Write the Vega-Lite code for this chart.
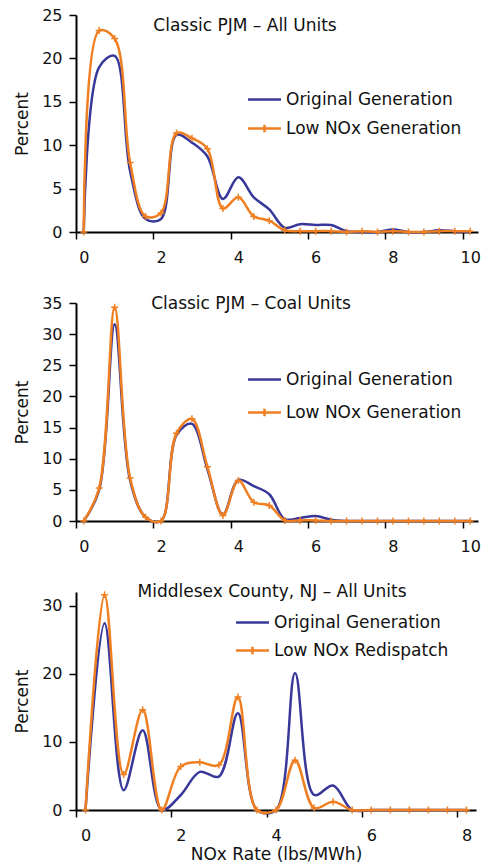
{
  "$schema": "https://vega.github.io/schema/vega-lite/v6.json",
  "background": "white",
  "padding": {"left": 13, "top": 7, "right": 5, "bottom": 5},
  "config": {
    "font": "DejaVu Sans",
    "view": {"stroke": null},
    "axis": {"labelFont": "DejaVu Sans", "labelFontSize": 16, "labelColor": "#111", "titleFont": "DejaVu Sans", "titleFontSize": 17, "titleFontWeight": "normal", "titleColor": "#111", "domainColor": "#000", "domainWidth": 2, "tickColor": "#000", "tickWidth": 1.5, "tickSize": 7, "grid": false},
    "legend": {"labelFont": "DejaVu Sans", "labelFontSize": 17, "labelColor": "#111", "labelLimit": 0, "symbolType": "M-2,0H2", "symbolSize": 272, "symbolStrokeWidth": 2.5, "labelOffset": 12, "padding": 0},
    "title": {"font": "DejaVu Sans", "fontSize": 17, "fontWeight": "normal", "color": "#111", "anchor": "middle", "frame": "group", "offset": 0, "baseline": "middle"}
  },
  "datasets": {
    "p1": [
      {"x": 0, "s": "Original Generation", "v": 0}, {"x": 0, "s": "Low NOx Generation", "v": 0},
      {"x": 0.4, "s": "Original Generation", "v": 19.0}, {"x": 0.4, "s": "Low NOx Generation", "v": 23.2},
      {"x": 0.8, "s": "Original Generation", "v": 20.3}, {"x": 0.8, "s": "Low NOx Generation", "v": 22.3},
      {"x": 1.2, "s": "Original Generation", "v": 7.0}, {"x": 1.2, "s": "Low NOx Generation", "v": 8.0},
      {"x": 1.6, "s": "Original Generation", "v": 1.5}, {"x": 1.6, "s": "Low NOx Generation", "v": 1.8},
      {"x": 2.0, "s": "Original Generation", "v": 1.5}, {"x": 2.0, "s": "Low NOx Generation", "v": 2.2},
      {"x": 2.4, "s": "Original Generation", "v": 11.2}, {"x": 2.4, "s": "Low NOx Generation", "v": 11.4},
      {"x": 2.8, "s": "Original Generation", "v": 10.3}, {"x": 2.8, "s": "Low NOx Generation", "v": 10.8},
      {"x": 3.2, "s": "Original Generation", "v": 8.7}, {"x": 3.2, "s": "Low NOx Generation", "v": 9.6},
      {"x": 3.6, "s": "Original Generation", "v": 3.8}, {"x": 3.6, "s": "Low NOx Generation", "v": 2.7},
      {"x": 4.0, "s": "Original Generation", "v": 6.3}, {"x": 4.0, "s": "Low NOx Generation", "v": 4.0},
      {"x": 4.4, "s": "Original Generation", "v": 4.0}, {"x": 4.4, "s": "Low NOx Generation", "v": 1.8},
      {"x": 4.8, "s": "Original Generation", "v": 2.6}, {"x": 4.8, "s": "Low NOx Generation", "v": 1.3},
      {"x": 5.2, "s": "Original Generation", "v": 0.5}, {"x": 5.2, "s": "Low NOx Generation", "v": 0.2},
      {"x": 5.6, "s": "Original Generation", "v": 0.9}, {"x": 5.6, "s": "Low NOx Generation", "v": 0.1},
      {"x": 6.0, "s": "Original Generation", "v": 0.8}, {"x": 6.0, "s": "Low NOx Generation", "v": 0.1},
      {"x": 6.4, "s": "Original Generation", "v": 0.8}, {"x": 6.4, "s": "Low NOx Generation", "v": 0.1},
      {"x": 6.8, "s": "Original Generation", "v": 0.1}, {"x": 6.8, "s": "Low NOx Generation", "v": 0.0},
      {"x": 7.2, "s": "Original Generation", "v": 0.0}, {"x": 7.2, "s": "Low NOx Generation", "v": 0.1},
      {"x": 7.6, "s": "Original Generation", "v": 0.0}, {"x": 7.6, "s": "Low NOx Generation", "v": 0.0},
      {"x": 8.0, "s": "Original Generation", "v": 0.3}, {"x": 8.0, "s": "Low NOx Generation", "v": 0.1},
      {"x": 8.4, "s": "Original Generation", "v": 0.0}, {"x": 8.4, "s": "Low NOx Generation", "v": 0.0},
      {"x": 8.8, "s": "Original Generation", "v": 0.0}, {"x": 8.8, "s": "Low NOx Generation", "v": 0.0},
      {"x": 9.2, "s": "Original Generation", "v": 0.2}, {"x": 9.2, "s": "Low NOx Generation", "v": 0.1},
      {"x": 9.6, "s": "Original Generation", "v": 0.1}, {"x": 9.6, "s": "Low NOx Generation", "v": 0.1},
      {"x": 10.0, "s": "Original Generation", "v": 0.0}, {"x": 10.0, "s": "Low NOx Generation", "v": 0.1}
    ],
    "p2": [
      {"x": 0, "s": "Original Generation", "v": 0}, {"x": 0, "s": "Low NOx Generation", "v": 0},
      {"x": 0.4, "s": "Original Generation", "v": 5.0}, {"x": 0.4, "s": "Low NOx Generation", "v": 5.3},
      {"x": 0.8, "s": "Original Generation", "v": 31.6}, {"x": 0.8, "s": "Low NOx Generation", "v": 34.3},
      {"x": 1.2, "s": "Original Generation", "v": 6.5}, {"x": 1.2, "s": "Low NOx Generation", "v": 6.9},
      {"x": 1.6, "s": "Original Generation", "v": 0.6}, {"x": 1.6, "s": "Low NOx Generation", "v": 0.6},
      {"x": 2.0, "s": "Original Generation", "v": 0.0}, {"x": 2.0, "s": "Low NOx Generation", "v": 0.0},
      {"x": 2.4, "s": "Original Generation", "v": 13.8}, {"x": 2.4, "s": "Low NOx Generation", "v": 14.1},
      {"x": 2.8, "s": "Original Generation", "v": 15.6}, {"x": 2.8, "s": "Low NOx Generation", "v": 16.4},
      {"x": 3.2, "s": "Original Generation", "v": 8.3}, {"x": 3.2, "s": "Low NOx Generation", "v": 8.7},
      {"x": 3.6, "s": "Original Generation", "v": 1.0}, {"x": 3.6, "s": "Low NOx Generation", "v": 0.9},
      {"x": 4.0, "s": "Original Generation", "v": 6.6}, {"x": 4.0, "s": "Low NOx Generation", "v": 6.5},
      {"x": 4.4, "s": "Original Generation", "v": 5.6}, {"x": 4.4, "s": "Low NOx Generation", "v": 3.0},
      {"x": 4.8, "s": "Original Generation", "v": 4.3}, {"x": 4.8, "s": "Low NOx Generation", "v": 2.5},
      {"x": 5.2, "s": "Original Generation", "v": 0.3}, {"x": 5.2, "s": "Low NOx Generation", "v": 0.1},
      {"x": 5.6, "s": "Original Generation", "v": 0.5}, {"x": 5.6, "s": "Low NOx Generation", "v": 0.1},
      {"x": 6.0, "s": "Original Generation", "v": 0.8}, {"x": 6.0, "s": "Low NOx Generation", "v": 0.1},
      {"x": 6.4, "s": "Original Generation", "v": 0.2}, {"x": 6.4, "s": "Low NOx Generation", "v": 0.0},
      {"x": 6.8, "s": "Original Generation", "v": 0.0}, {"x": 6.8, "s": "Low NOx Generation", "v": 0.0},
      {"x": 7.2, "s": "Original Generation", "v": 0.0}, {"x": 7.2, "s": "Low NOx Generation", "v": 0.0},
      {"x": 7.6, "s": "Original Generation", "v": 0.0}, {"x": 7.6, "s": "Low NOx Generation", "v": 0.0},
      {"x": 8.0, "s": "Original Generation", "v": 0.0}, {"x": 8.0, "s": "Low NOx Generation", "v": 0.0},
      {"x": 8.4, "s": "Original Generation", "v": 0.0}, {"x": 8.4, "s": "Low NOx Generation", "v": 0.0},
      {"x": 8.8, "s": "Original Generation", "v": 0.0}, {"x": 8.8, "s": "Low NOx Generation", "v": 0.0},
      {"x": 9.2, "s": "Original Generation", "v": 0.0}, {"x": 9.2, "s": "Low NOx Generation", "v": 0.0},
      {"x": 9.6, "s": "Original Generation", "v": 0.0}, {"x": 9.6, "s": "Low NOx Generation", "v": 0.0},
      {"x": 10.0, "s": "Original Generation", "v": 0.0}, {"x": 10.0, "s": "Low NOx Generation", "v": 0.0}
    ],
    "p3": [
      {"x": 0, "s": "Original Generation", "v": 0}, {"x": 0, "s": "Low NOx Redispatch", "v": 0},
      {"x": 0.4, "s": "Original Generation", "v": 27.4}, {"x": 0.4, "s": "Low NOx Redispatch", "v": 31.6},
      {"x": 0.8, "s": "Original Generation", "v": 2.9}, {"x": 0.8, "s": "Low NOx Redispatch", "v": 5.2},
      {"x": 1.2, "s": "Original Generation", "v": 11.7}, {"x": 1.2, "s": "Low NOx Redispatch", "v": 14.7},
      {"x": 1.6, "s": "Original Generation", "v": 0.0}, {"x": 1.6, "s": "Low NOx Redispatch", "v": 0.0},
      {"x": 2.0, "s": "Original Generation", "v": 2.2}, {"x": 2.0, "s": "Low NOx Redispatch", "v": 6.4},
      {"x": 2.4, "s": "Original Generation", "v": 5.6}, {"x": 2.4, "s": "Low NOx Redispatch", "v": 7.0},
      {"x": 2.8, "s": "Original Generation", "v": 4.9}, {"x": 2.8, "s": "Low NOx Redispatch", "v": 6.6},
      {"x": 3.2, "s": "Original Generation", "v": 14.2}, {"x": 3.2, "s": "Low NOx Redispatch", "v": 16.6},
      {"x": 3.6, "s": "Original Generation", "v": 0.0}, {"x": 3.6, "s": "Low NOx Redispatch", "v": 0.0},
      {"x": 4.0, "s": "Original Generation", "v": 0.0}, {"x": 4.0, "s": "Low NOx Redispatch", "v": 0.0},
      {"x": 4.4, "s": "Original Generation", "v": 20.1}, {"x": 4.4, "s": "Low NOx Redispatch", "v": 7.3},
      {"x": 4.8, "s": "Original Generation", "v": 2.2}, {"x": 4.8, "s": "Low NOx Redispatch", "v": 0.3},
      {"x": 5.2, "s": "Original Generation", "v": 3.6}, {"x": 5.2, "s": "Low NOx Redispatch", "v": 1.2},
      {"x": 5.6, "s": "Original Generation", "v": 0.0}, {"x": 5.6, "s": "Low NOx Redispatch", "v": 0.0},
      {"x": 6.0, "s": "Original Generation", "v": 0.0}, {"x": 6.0, "s": "Low NOx Redispatch", "v": 0.0},
      {"x": 6.4, "s": "Original Generation", "v": 0.0}, {"x": 6.4, "s": "Low NOx Redispatch", "v": 0.0},
      {"x": 6.8, "s": "Original Generation", "v": 0.0}, {"x": 6.8, "s": "Low NOx Redispatch", "v": 0.0},
      {"x": 7.2, "s": "Original Generation", "v": 0.0}, {"x": 7.2, "s": "Low NOx Redispatch", "v": 0.0},
      {"x": 7.6, "s": "Original Generation", "v": 0.0}, {"x": 7.6, "s": "Low NOx Redispatch", "v": 0.0},
      {"x": 8.0, "s": "Original Generation", "v": 0.0}, {"x": 8.0, "s": "Low NOx Redispatch", "v": 0.0}
    ]
  },
  "spacing": 71,
  "bounds": "flush",
  "resolve": {"scale": {"color": "independent", "x": "independent", "y": "independent"}, "legend": {"color": "independent"}},
  "vconcat": [
    {
      "width": 402, "height": 217,
      "title": {"text": "Classic PJM – All Units", "dx": -32, "dy": 32},
      "data": {"name": "p1"},
      "encoding": {
        "x": {"field": "x", "type": "quantitative", "scale": {"domain": [-0.2, 10.2], "nice": false, "zero": false}, "axis": {"values": [0, 2, 4, 6, 8, 10], "format": "d", "title": null, "tickOffset": -7.7, "labelOffset": 7.7, "labelPadding": 10}},
        "y": {"field": "v", "type": "quantitative", "scale": {"domain": [0, 25], "nice": false}, "axis": {"values": [0, 5, 10, 15, 20, 25], "title": "Percent", "labelPadding": 7, "titlePadding": 10}}
      },
      "layer": [
        {"transform": [{"filter": "datum.s === 'Original Generation'"}], "mark": {"type": "line", "interpolate": "catmull-rom", "strokeWidth": 2.5, "clip": false},
         "encoding": {"color": {"field": "s", "type": "nominal", "scale": {"domain": ["Original Generation", "Low NOx Generation"], "range": ["#38389a", "#f07f22"]},
           "legend": {"title": null, "orient": "none", "legendX": 179, "legendY": 75, "rowPadding": 11,
             "encode": {"symbols": {"update": {"shape": [{"test": "datum.value !== 'Original Generation'", "value": "M-2,0H2M0,-0.45V0.45"}, {"value": "M-2,0H2"}], "fill": {"value": "transparent"}}}}}}}},
        {"transform": [{"filter": "datum.s !== 'Original Generation'"}], "mark": {"type": "line", "interpolate": "catmull-rom", "strokeWidth": 2.5, "clip": false},
         "encoding": {"color": {"field": "s", "type": "nominal"}}},
        {"transform": [{"filter": "datum.s !== 'Original Generation'"}], "mark": {"type": "point", "shape": "M-1,0H1M0,-1V1", "size": 49, "filled": false, "stroke": "#f07f22", "strokeWidth": 1.5, "opacity": 1}}
      ]
    },
    {
      "width": 402, "height": 218,
      "title": {"text": "Classic PJM – Coal Units", "dx": -26, "dy": 22},
      "data": {"name": "p2"},
      "encoding": {
        "x": {"field": "x", "type": "quantitative", "scale": {"domain": [-0.2, 10.2], "nice": false, "zero": false}, "axis": {"values": [0, 2, 4, 6, 8, 10], "format": "d", "title": null, "tickOffset": -7.7, "labelOffset": 7.7, "labelPadding": 10}},
        "y": {"field": "v", "type": "quantitative", "scale": {"domain": [0, 35], "nice": false}, "axis": {"values": [0, 5, 10, 15, 20, 25, 30, 35], "title": "Percent", "labelPadding": 7, "titlePadding": 10}}
      },
      "layer": [
        {"transform": [{"filter": "datum.s === 'Original Generation'"}], "mark": {"type": "line", "interpolate": "catmull-rom", "strokeWidth": 2.5, "clip": false},
         "encoding": {"color": {"field": "s", "type": "nominal", "scale": {"domain": ["Original Generation", "Low NOx Generation"], "range": ["#38389a", "#f07f22"]},
           "legend": {"title": null, "orient": "none", "legendX": 179, "legendY": 67, "rowPadding": 15,
             "encode": {"symbols": {"update": {"shape": [{"test": "datum.value !== 'Original Generation'", "value": "M-2,0H2M0,-0.45V0.45"}, {"value": "M-2,0H2"}], "fill": {"value": "transparent"}}}}}}}},
        {"transform": [{"filter": "datum.s !== 'Original Generation'"}], "mark": {"type": "line", "interpolate": "catmull-rom", "strokeWidth": 2.5, "clip": false},
         "encoding": {"color": {"field": "s", "type": "nominal"}}},
        {"transform": [{"filter": "datum.s !== 'Original Generation'"}], "mark": {"type": "point", "shape": "M-1,0H1M0,-1V1", "size": 49, "filled": false, "stroke": "#f07f22", "strokeWidth": 1.5, "opacity": 1}}
      ]
    },
    {
      "width": 400, "height": 218,
      "title": {"text": "Middlesex County, NJ – All Units", "dx": -4, "dy": 17},
      "data": {"name": "p3"},
      "encoding": {
        "x": {"field": "x", "type": "quantitative", "scale": {"domain": [-0.2, 8.2], "nice": false, "zero": false}, "axis": {"values": [0, 2, 4, 6, 8], "format": "d", "title": "NOx Rate (lbs/MWh)", "titlePadding": 3, "tickOffset": -9.5, "labelOffset": 9.5, "labelPadding": 10}},
        "y": {"field": "v", "type": "quantitative", "scale": {"domain": [0, 32], "nice": false}, "axis": {"values": [0, 10, 20, 30], "title": "Percent", "labelPadding": 7, "titlePadding": 10}}
      },
      "layer": [
        {"transform": [{"filter": "datum.s === 'Original Generation'"}], "mark": {"type": "line", "interpolate": "catmull-rom", "strokeWidth": 2.5, "clip": false},
         "encoding": {"color": {"field": "s", "type": "nominal", "scale": {"domain": ["Original Generation", "Low NOx Redispatch"], "range": ["#38389a", "#f07f22"]},
           "legend": {"title": null, "orient": "none", "legendX": 167, "legendY": 21, "rowPadding": 10,
             "encode": {"symbols": {"update": {"shape": [{"test": "datum.value !== 'Original Generation'", "value": "M-2,0H2M0,-0.45V0.45"}, {"value": "M-2,0H2"}], "fill": {"value": "transparent"}}}}}}}},
        {"transform": [{"filter": "datum.s !== 'Original Generation'"}], "mark": {"type": "line", "interpolate": "catmull-rom", "strokeWidth": 2.5, "clip": false},
         "encoding": {"color": {"field": "s", "type": "nominal"}}},
        {"transform": [{"filter": "datum.s !== 'Original Generation'"}], "mark": {"type": "point", "shape": "M-1,0H1M0,-1V1", "size": 49, "filled": false, "stroke": "#f07f22", "strokeWidth": 1.5, "opacity": 1}}
      ]
    }
  ]
}
